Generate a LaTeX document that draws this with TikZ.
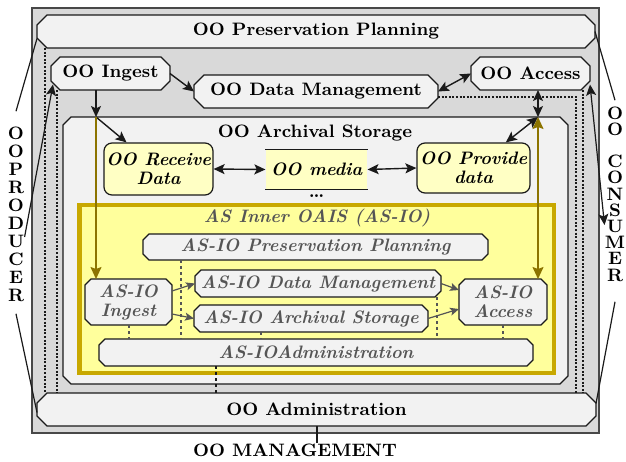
\documentclass[tikz,border=0pt]{standalone}
\usepackage{tikz}
\usetikzlibrary{arrows.meta,positioning,backgrounds}
\definecolor{cFrame}{HTML}{D9D9D9}
\definecolor{cBox}{HTML}{F2F2F2}
\definecolor{cLine}{HTML}{1A1A1A}
\definecolor{cYel}{HTML}{FFFFC4}
\definecolor{cInner}{HTML}{FFFF9C}
\definecolor{cGold}{HTML}{C8A800}
\definecolor{cOlive}{HTML}{8C7400}
\definecolor{cIO}{HTML}{555555}
\newcommand{\oofont}{\fontsize{9}{10}\selectfont\bfseries}
\newcommand{\iofont}{\fontsize{9}{9.5}\selectfont\bfseries\itshape}
% outline with cut corners round a node: node, cut, style
\newcommand{\chamf}[3]{%
  \path[#3] ([xshift=#2]#1.north west) -- ([xshift=-#2]#1.north east)
    -- ([yshift=-#2]#1.north east) -- ([yshift=#2]#1.south east)
    -- ([xshift=-#2]#1.south east) -- ([xshift=#2]#1.south west)
    -- ([yshift=#2]#1.south west) -- ([yshift=-#2]#1.north west) -- cycle;}
\tikzset{
  mgmtframe/.style = {draw=cLine!80, fill=cFrame, line width=0.6pt},
  oofill/.style  = {draw=cLine, fill=cBox, line width=0.6pt},
  oo/.style      = {rectangle, inner sep=0pt, outer sep=0pt, align=center, font=\oofont},
  iob/.style     = {oo, font=\iofont, text=cIO},
  yel/.style     = {rectangle, rounded corners=4pt, draw=cLine, fill=cYel, line width=0.6pt,
                    inner sep=0pt, align=center, font=\iofont},
  lbl/.style     = {font=\oofont, align=center, inner sep=0pt},
  arr/.style     = {-{Stealth[length=5.5pt,width=5pt,inset=1.2pt]}, draw=cLine, line width=0.7pt},
  darr/.style    = {{Stealth[length=5.5pt,width=5pt,inset=1.2pt]}-{Stealth[length=5.5pt,width=5pt,inset=1.2pt]},
                    draw=cLine, line width=0.7pt},
  olive/.style   = {draw=cOlive, line width=0.8pt},
  ioarr/.style   = {-{Stealth[length=4.5pt,width=4pt,inset=1pt]}, draw=cIO, line width=0.6pt},
  iodash/.style  = {draw=cIO, line width=0.6pt, dash pattern=on 1.5pt off 1.5pt},
  oodot/.style   = {draw=cLine, line width=0.6pt, dash pattern=on 1pt off 0.8pt},
  link/.style    = {draw=cLine, line width=0.6pt},
}

\begin{document}
\begin{tikzpicture}[x=0.5pt, y=-0.5pt]
  \useasboundingbox (0,0) rectangle (626,461);

  \node[oo, minimum width=283.5pt, minimum height=212.5pt] (mgmt) at (315.5,220.5) {};

  \node[oo, minimum width=279pt, minimum height=16.5pt] (pp) at (316,31.5) {OO Preservation Planning};
  \node[oo, minimum width=279.5pt, minimum height=16.5pt] (adm) at (316.5,409.5) {OO Administration};
  \node[oo, minimum width=59.5pt, minimum height=16.5pt] (ingest) at (110.5,73.5) {OO Ingest};
  \node[oo, minimum width=122pt, minimum height=16.5pt] (dm) at (316,91.5) {OO Data Management};
  \node[oo, minimum width=59.5pt, minimum height=16.5pt] (access) at (530.5,73.5) {OO Access};

  % archival storage
  \node[oo, minimum width=252.5pt, minimum height=133.5pt] (as) at (315.5,250.5) {};
  \node[lbl] (astitle) at (315,133) {OO Archival Storage};
  \node[yel, minimum width=54.5pt, minimum height=26pt] (recv) at (158.5,169) {OO Receive\\Data};
  \node[yel, rounded corners=0pt, draw=none, minimum width=50.5pt, minimum height=19.5pt] (media) at (316.5,169.5) {OO media};
  \draw[cLine, line width=0.9pt] (media.north west) -- (media.north east);
  \draw[cLine, line width=0.7pt] (media.south west) -- (media.south east);
  \node[lbl, below=2.5pt of media] (mediadots) {\dots};
  \node[yel, minimum width=56.5pt, minimum height=25pt] (prov) at (473.5,168) {OO Provide\\data};

  % inner OAIS
  \node[oo, minimum width=237.25pt, minimum height=84pt] (io) at (316.75,289) {};
  \node[lbl, font=\iofont, text=cIO] (iotitle) at (317,218) {AS Inner OAIS (AS-IO)};
  \node[iob, minimum width=172.5pt, minimum height=13pt] (iopp) at (315.5,247) {AS-IO Preservation Planning};
  \node[iob, minimum width=43.5pt, minimum height=23pt] (ioing) at (128.5,302) {AS-IO\\Ingest};
  \node[iob, minimum width=123pt, minimum height=13.5pt] (iodm) at (318,283.5) {AS-IO Data Management};
  \node[iob, minimum width=117pt, minimum height=13.5pt] (ioas) at (311,318.5) {AS-IO Archival Storage};
  \node[iob, minimum width=44pt, minimum height=23pt] (ioacc) at (503,302) {AS-IO\\Access};
  \node[iob, minimum width=217pt, minimum height=13.5pt] (ioadm) at (316,352.5) {AS-IOAdministration};

  \begin{scope}[on background layer]
    \path[mgmtframe] (mgmt.north west) rectangle (mgmt.south east);
    \chamf{pp}{5pt}{oofill}
    \chamf{adm}{5pt}{oofill}
    \chamf{ingest}{4.5pt}{oofill}
    \chamf{dm}{5pt}{oofill}
    \chamf{access}{4.5pt}{oofill}
    \chamf{as}{4pt}{oofill}
    \path[draw=cGold, fill=cInner, line width=2.2pt] (io.north west) rectangle (io.south east);
    \foreach \b in {iopp, ioing, iodm, ioas, ioacc, ioadm} {
      \chamf{\b}{3pt}{oofill}
    }
  \end{scope}

  % outer labels
  \node[lbl, font=\fontsize{9}{9}\selectfont\bfseries] (prod) at (16,214) {O\\O\\P\\R\\O\\D\\U\\C\\E\\R};
  \node[lbl, font=\fontsize{9}{8.1}\selectfont\bfseries] (cons) at (615,194) {O\\O\\[8.1pt]C\\O\\N\\S\\U\\M\\E\\R};
  \node[lbl] (mgmtlbl) at (295,450) {OO MANAGEMENT};

  % inner dashed links
  \foreach \x/\a in {181/iopp, 129/ioing, 261/ioas, 437/iodm, 503/ioacc}
    \draw[iodash] (\a.south -| \x,0) -- (ioadm.north -| \x,0);
  \draw[iodash, draw=cLine] (ioadm.south -| 216,0) -- (adm.north -| 216,0);

  % outer dotted links
  \draw[oodot] (pp.south -| 45,0) -- (adm.north -| 45,0);
  \draw[oodot] (ingest.south -| 57,0) -- (adm.north -| 57,0);
  \draw[oodot] ([yshift=-2.75pt]dm.east) -| (adm.north -| 576,0);
  \draw[oodot] (access.south -| 583,0) -- (adm.north -| 583,0);

  % flows
  \coordinate (ingtop) at (96,117);
  \coordinate (acctop) at (538,117);
  \draw[arr] (ingest.east) -- (dm.west);
  \draw[darr] (dm.east) -- (access.west);
  \draw[arr] (ingest.south -| ingtop) -- (ingtop);
  \draw[arr] (ingtop) -- (recv);
  \draw[darr] (recv.east) -- (media.west);
  \draw[darr] (media.east) -- (prov.west);
  \draw[darr] (access.south -| acctop) -- (acctop);
  \draw[darr] (acctop) -- (prov);
  \draw[olive, -{Stealth[length=6pt,width=5.5pt,inset=1pt]}] (ingtop) -- (ioing.north -| ingtop);
  \draw[olive, {Stealth[length=6pt,width=5.5pt,inset=1pt]}-{Stealth[length=6pt,width=5.5pt,inset=1pt]}] (acctop) -- (ioacc.north -| acctop);

  \draw[ioarr] ([yshift=5.5pt]ioing.east) -- (iodm.west);
  \draw[ioarr] ([yshift=-6pt]ioing.east) -- (ioas.west);
  \draw[ioarr] (iodm.east) -- ([yshift=6pt]ioacc.west);
  \draw[ioarr] (ioas.east) -- ([yshift=-3.5pt]ioacc.west);

  % producer and consumer
  \draw[link] ([yshift=-3.5pt]pp.west) -- ([yshift=7.5pt]prod.north);
  \draw[arr, line width=0.6pt] ([yshift=-11.5pt]prod.east) -- ([xshift=1pt,yshift=-5.5pt]ingest.west);
  \draw[link] ([yshift=-6pt]prod.south) -- ([yshift=-1.5pt]adm.west);
  \draw[link] (pp.east) -- ([yshift=3pt]cons.north);
  \draw[darr, line width=0.6pt] ([yshift=-5.5pt]access.east) -- ([yshift=-15.5pt]cons.west);
  \draw[link] ([yshift=-10pt]cons.south) -- ([yshift=3pt]adm.east);
  \draw[link] (adm.south -| 317,0) -- (mgmtlbl.north -| 317,0);
\end{tikzpicture}
\end{document}
